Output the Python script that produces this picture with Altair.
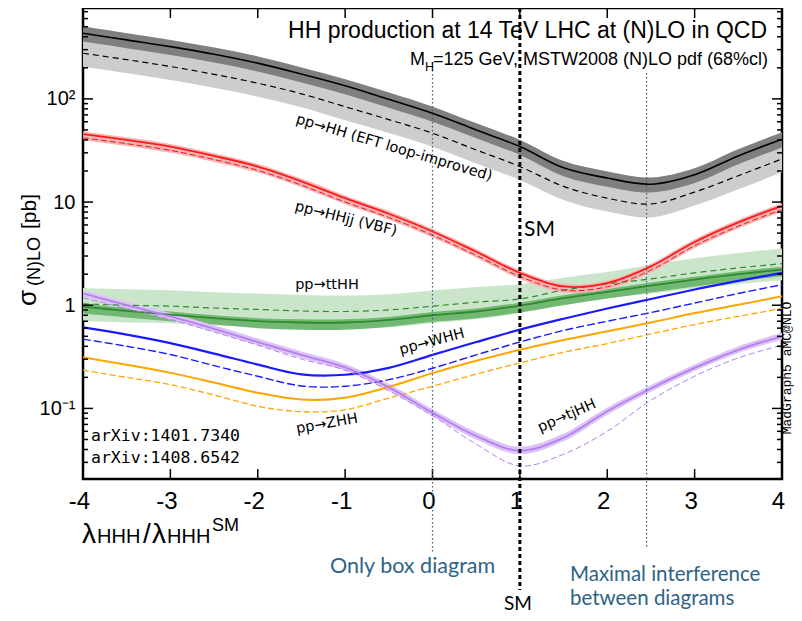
import altair as alt
import pandas as pd

# ---------------- data ----------------
lam = [-4, -3.5, -3, -2.5, -2, -1.5, -1, -0.5, 0, 0.5, 1, 1.5, 2, 2.5, 3, 3.5, 4]

hh_nlo    = [433, 373, 321, 271, 222, 174, 134, 99, 72.6, 50, 34.5, 21.5, 17.1, 14.9, 18.4, 28, 40.7]
hh_nlo_hi = [502, 433, 372, 314, 258, 202, 155, 115, 84, 58, 40, 25, 19.8, 17.3, 21.3, 32.5, 47.2]
hh_nlo_lo = [359, 310, 266, 225, 184, 144.5, 111, 82, 60, 41.5, 28.6, 17.8, 14.1, 12.4, 15.3, 23.2, 33.8]
hh_lo     = [277, 240, 206, 173, 142, 112, 84, 63, 46.5, 32, 22.1, 14.2, 10.9, 9.6, 12.5, 18, 26.2]
hh_lo_lo  = [205, 178, 152, 128, 105, 83, 62, 46.6, 34.4, 23.7, 16.4, 10.5, 8.1, 7.1, 9.25, 13.3, 19.4]

vbf_nlo   = [45.5, 40, 34.5, 28, 22.1, 15.9, 10.9, 7.7, 5.19, 3.3, 2.06, 1.52, 1.64, 2.38, 4.1, 6.35, 9.2]
vbf_lo    = [41.9, 36.8, 31.7, 25.8, 20.3, 14.6, 10.0, 7.1, 4.78, 3.04, 1.9, 1.40, 1.51, 2.19, 3.77, 5.84, 8.46]
vbf_hi    = [48.2, 42.4, 36.6, 29.7, 23.4, 16.9, 11.6, 8.2, 5.5, 3.5, 2.18, 1.61, 1.74, 2.52, 4.35, 6.73, 9.75]
vbf_bl    = [39.8, 35, 30.1, 24.5, 19.3, 13.9, 9.5, 6.75, 4.54, 2.89, 1.8, 1.33, 1.43, 2.08, 3.58, 5.55, 8.04]

tthh_nlo    = [0.97, 0.88, 0.81, 0.75, 0.70, 0.68, 0.68, 0.72, 0.80, 0.87, 0.99, 1.17, 1.35, 1.55, 1.77, 2.0, 2.21]
tthh_nlo_hi = [1.04, 0.94, 0.87, 0.80, 0.75, 0.73, 0.73, 0.77, 0.86, 0.93, 1.06, 1.25, 1.44, 1.66, 1.89, 2.14, 2.36]
tthh_nlo_lo = [0.83, 0.76, 0.70, 0.65, 0.60, 0.58, 0.58, 0.62, 0.69, 0.75, 0.85, 1.0, 1.16, 1.33, 1.52, 1.72, 1.9]
tthh_lo     = [1.03, 1.0, 0.98, 0.94, 0.91, 0.88, 0.87, 0.9, 0.98, 1.07, 1.15, 1.40, 1.61, 1.8, 2.06, 2.3, 2.53]
tthh_lo_hi  = [1.47, 1.43, 1.40, 1.34, 1.30, 1.26, 1.24, 1.28, 1.39, 1.50, 1.60, 1.85, 2.1, 2.45, 2.85, 3.2, 3.55]
tthh_lo_lo  = [0.70, 0.68, 0.67, 0.64, 0.62, 0.60, 0.59, 0.61, 0.67, 0.73, 0.84, 1.02, 1.17, 1.3, 1.45, 1.6, 1.75]

whh_nlo = [0.61, 0.52, 0.43, 0.34, 0.266, 0.214, 0.212, 0.247, 0.33, 0.44, 0.58, 0.74, 0.93, 1.15, 1.42, 1.72, 2.06]
whh_lo  = [0.47, 0.40, 0.333, 0.26, 0.205, 0.165, 0.164, 0.19, 0.245, 0.33, 0.44, 0.57, 0.70, 0.85, 1.05, 1.3, 1.58]
zhh_nlo = [0.313, 0.265, 0.221, 0.178, 0.142, 0.122, 0.127, 0.162, 0.22, 0.29, 0.37, 0.46, 0.56, 0.68, 0.84, 1.01, 1.22]
zhh_lo  = [0.235, 0.20, 0.170, 0.135, 0.105, 0.093, 0.097, 0.126, 0.164, 0.215, 0.276, 0.35, 0.425, 0.527, 0.65, 0.78, 0.93]

tjhh_nlo = [1.30, 1.0, 0.78, 0.59, 0.44, 0.33, 0.25, 0.16, 0.0906, 0.054, 0.039, 0.052, 0.094, 0.156, 0.247, 0.37, 0.50]
tjhh_lo  = [1.18, 0.93, 0.73, 0.55, 0.41, 0.30, 0.235, 0.148, 0.085, 0.045, 0.0277, 0.036, 0.060, 0.12, 0.205, 0.309, 0.41]
tjhh_hi  = [1.40, 1.08, 0.84, 0.64, 0.475, 0.356, 0.27, 0.173, 0.098, 0.059, 0.0425, 0.057, 0.102, 0.169, 0.267, 0.40, 0.54]
tjhh_bl  = [1.21, 0.93, 0.725, 0.55, 0.41, 0.307, 0.232, 0.149, 0.084, 0.050, 0.036, 0.048, 0.087, 0.145, 0.23, 0.344, 0.465]

x_ticks = [-4, -3, -2, -1, 0, 1, 2, 3, 4]
y_major = [0.1, 1, 10, 100]
y_minor = [0.03, 0.04, 0.05, 0.06, 0.07, 0.08, 0.09,
           0.2, 0.3, 0.4, 0.5, 0.6, 0.7, 0.8, 0.9,
           2, 3, 4, 5, 6, 7, 8, 9,
           20, 30, 40, 50, 60, 70, 80, 90,
           200, 300, 400, 500, 600, 700]
x_box = [0.0]
x_sm = [1.0]
x_maxint = [2.45]

df = pd.DataFrame({
    "x": lam,
    "hh_nlo": hh_nlo, "hh_nlo_hi": hh_nlo_hi, "hh_nlo_lo": hh_nlo_lo,
    "hh_lo": hh_lo, "hh_lo_lo": hh_lo_lo,
    "vbf_nlo": vbf_nlo, "vbf_lo": vbf_lo, "vbf_hi": vbf_hi, "vbf_bl": vbf_bl,
    "tthh_nlo": tthh_nlo, "tthh_nlo_hi": tthh_nlo_hi, "tthh_nlo_lo": tthh_nlo_lo,
    "tthh_lo": tthh_lo, "tthh_lo_hi": tthh_lo_hi, "tthh_lo_lo": tthh_lo_lo,
    "whh_nlo": whh_nlo, "whh_lo": whh_lo, "zhh_nlo": zhh_nlo, "zhh_lo": zhh_lo,
    "tjhh_nlo": tjhh_nlo, "tjhh_lo": tjhh_lo, "tjhh_hi": tjhh_hi, "tjhh_bl": tjhh_bl,
})

# ---------------- layout ----------------
W, H = 699, 471
OX, OY = 83, 8          # page position of plot origin


def px(v):
    return v - OX


def py(v):
    return v - OY


SANS = "Liberation Sans"
LAB = "DejaVu Sans"
NOTE = "#2e6386"
INTERP = "catmull-rom"

xscale = alt.Scale(domain=[-4, 4], nice=False, zero=False)
yscale = alt.Scale(type="log", domain=[0.0207, 760], nice=False)
xaxis = alt.Axis(values=x_ticks, ticks=False, domain=False, grid=False,
                 labelFontSize=24, labelFont=SANS, labelColor="black",
                 labelPadding=10, labelOffset=-4, labelFlush=False,
                 labelOverlap=False, labelExpr="datum.value + ''", title=None)
yaxis = alt.Axis(values=y_major, ticks=False, domain=False, grid=False,
                 labelFontSize=20, labelFont=SANS, labelColor="black",
                 labelPadding=8, labelFlush=False, labelOverlap=False,
                 labelExpr="datum.value > 50 ? '10²' : datum.value > 5 ? '10' : datum.value > 0.5 ? '1' : '10⁻¹'",
                 title=None)


def X(col="x"):
    return alt.X(f"{col}:Q", scale=xscale, axis=xaxis)


def Y(col):
    return alt.Y(f"{col}:Q", scale=yscale, axis=yaxis)


def band(lo, hi, color, opacity=1.0):
    return alt.Chart(df).mark_area(color=color, opacity=opacity, interpolate=INTERP).encode(
        x=X(), y=Y(lo), y2=alt.Y2(f"{hi}:Q"))


def line(col, color, width, dash=None):
    if dash:
        m = alt.Chart(df).mark_line(color=color, strokeWidth=width, interpolate=INTERP, strokeDash=dash)
    else:
        m = alt.Chart(df).mark_line(color=color, strokeWidth=width, interpolate=INTERP)
    return m.encode(x=X(), y=Y(col))


one = pd.DataFrame({"k": [0]})


def txt(s, x, y, size, font=SANS, color="black", angle=0, align="left", baseline="middle"):
    return alt.Chart(one).mark_text(text=s, font=font, fontSize=size, color=color, angle=angle,
                                    align=align, baseline=baseline).encode(
        x=alt.value(px(x)), y=alt.value(py(y)))


layers = []
# bands
layers.append(band("hh_lo_lo", "hh_nlo_hi", "#cdcdcd"))
layers.append(band("hh_nlo_lo", "hh_nlo_hi", "#7f7f7f"))
layers.append(band("tthh_lo_lo", "tthh_lo_hi", "#cbe5cb"))
layers.append(band("tthh_nlo_lo", "tthh_nlo_hi", "#72b872"))
layers.append(band("vbf_bl", "vbf_hi", "#f7b4b4"))
layers.append(band("tjhh_bl", "tjhh_hi", "#dcc3f6"))

# lines
layers.append(line("hh_lo", "black", 1.2, [6, 4]))
layers.append(line("hh_nlo", "black", 1.6))
layers.append(line("tthh_lo", "#2e8b2e", 1.2, [6, 4]))
layers.append(line("tthh_nlo", "#2e8b2e", 1.8))
layers.append(line("whh_lo", "#1a1aff", 1.4, [8, 3]))
layers.append(line("whh_nlo", "#1a1aff", 2.2))
layers.append(line("zhh_lo", "#ffa500", 1.3, [6, 3]))
layers.append(line("zhh_nlo", "#ffa500", 2.0))
layers.append(line("vbf_lo", "#e8161b", 1.0, [6, 3]))
layers.append(line("vbf_nlo", "#ff1a1a", 1.8))
layers.append(line("tjhh_lo", "#b57ff0", 1.0, [6, 3]))
layers.append(line("tjhh_nlo", "#b57ff0", 1.8))

# ticks (inward), drawn from the tick lists through the scales
ymaj = pd.DataFrame({"v": y_major})
ymin = pd.DataFrame({"v": y_minor})
xtk = pd.DataFrame({"v": x_ticks[1:-1]})
for data, length in ((ymaj, 10), (ymin, 5)):
    layers.append(alt.Chart(data).mark_rule(color="black", strokeWidth=1.5).encode(
        y=Y("v"), x=alt.value(0), x2=alt.value(length)))
    layers.append(alt.Chart(data).mark_rule(color="black", strokeWidth=1.5).encode(
        y=Y("v"), x=alt.value(W), x2=alt.value(W - length)))
layers.append(alt.Chart(xtk).mark_rule(color="black", strokeWidth=1.5).encode(
    x=X("v"), y=alt.value(0), y2=alt.value(10)))
layers.append(alt.Chart(xtk).mark_rule(color="black", strokeWidth=1.5).encode(
    x=X("v"), y=alt.value(H), y2=alt.value(H - 10)))

# vertical reference lines
layers.append(alt.Chart(pd.DataFrame({"v": x_box})).mark_rule(
    color=NOTE, strokeWidth=1.2, strokeDash=[1.5, 2.5]).encode(
    x=X("v"), y=alt.value(py(62)), y2=alt.value(py(553))))
layers.append(alt.Chart(pd.DataFrame({"v": x_maxint})).mark_rule(
    color=NOTE, strokeWidth=1.2, strokeDash=[1.5, 2.5]).encode(
    x=X("v"), y=alt.value(py(73)), y2=alt.value(py(547))))
layers.append(alt.Chart(pd.DataFrame({"v": x_sm})).mark_rule(
    color="black", strokeWidth=3, strokeDash=[4, 3]).encode(
    x=X("v"), y=alt.value(0), y2=alt.value(py(590))))

# texts inside the plot
layers.append(txt("HH production at 14 TeV LHC at (N)LO in QCD", 767, 31, 23, align="right"))
layers.append(txt("M", 425, 60, 18, align="right"))
layers.append(txt("H", 425, 67, 12.5))
layers.append(txt("=125 GeV, MSTW2008 (N)LO pdf (68%cl)", 433, 60, 18))
layers.append(txt("pp→HH (EFT loop-improved)", 394, 148, 14.5, font=LAB, angle=16.5, align="center"))
layers.append(txt("pp→HHjj (VBF)", 346, 219, 14.5, font=LAB, angle=14, align="center"))
layers.append(txt("pp→ttHH", 327, 285, 14.5, font=LAB, align="center"))
layers.append(txt("pp→WHH", 432, 342, 14.5, font=LAB, angle=345, align="center"))
layers.append(txt("pp→ZHH", 327, 424, 14.5, font=LAB, angle=350, align="center"))
layers.append(txt("pp→tjHH", 567, 416, 14.5, font=LAB, angle=336, align="center"))
layers.append(txt("SM", 524, 230, 21, font="Lato"))
layers.append(txt("arXiv:1401.7340", 91, 436, 16.5, font="DejaVu Sans Mono"))
layers.append(txt("arXiv:1408.6542", 91, 458, 16.5, font="DejaVu Sans Mono"))
layers.append(txt("MadGraph5 aMC@NLO", 786.5, 368, 13, font="Liberation Mono", angle=270, align="center"))

# axis titles
layers.append(txt("σ", 36, 306, 26, angle=270, baseline="alphabetic"))
layers.append(txt("(N)LO", 40, 286, 18, angle=270, baseline="alphabetic"))
layers.append(txt("[pb]", 36, 229, 21, angle=270, baseline="alphabetic"))
layers.append(txt("λ", 82, 543, 28, baseline="alphabetic"))
layers.append(txt("HHH", 97, 543, 20, baseline="alphabetic"))
layers.append(txt("/", 143, 543, 28, baseline="alphabetic"))
layers.append(txt("λ", 152, 543, 28, baseline="alphabetic"))
layers.append(txt("HHH", 167, 543, 20, baseline="alphabetic"))
layers.append(txt("SM", 212, 531, 18, baseline="alphabetic"))

# notes below
layers.append(txt("Only box diagram", 330, 567, 21.5, font="Lato", color=NOTE))
layers.append(txt("Maximal interference", 570, 575, 20.5, font="Lato", color=NOTE))
layers.append(txt("between diagrams", 570, 599, 20.5, font="Lato", color=NOTE))
layers.append(txt("SM", 518, 604, 19, font="Lato", align="center"))

chart = alt.layer(*layers).properties(
    width=W, height=H,
    autosize=alt.AutoSizeParams(type="none"),
    padding={"left": 75, "top": 0, "right": 12, "bottom": 134},
).configure_view(stroke="black", strokeWidth=2.5)

chart.save("out.html", embed_options={"renderer": "svg", "actions": False})
